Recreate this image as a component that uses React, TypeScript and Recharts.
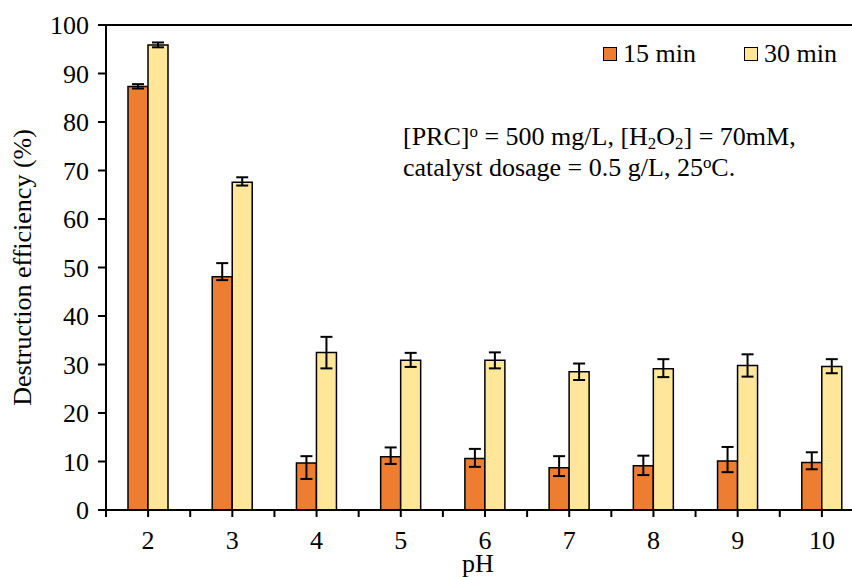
import React from 'react';
import { BarChart, Bar, XAxis, YAxis, ErrorBar, ReferenceLine, Legend, Label } from 'recharts';

const phValues = ['2', '3', '4', '5', '6', '7', '8', '9', '10'];
const min15 = [87.3, 48.1, 9.7, 11.0, 10.6, 8.7, 9.1, 10.1, 9.8];
const min15ErrLow = [0.4, 0.7, 3.3, 1.5, 1.7, 1.7, 1.9, 2.3, 1.4];
const min15ErrHigh = [0.5, 2.8, 1.4, 1.9, 2.0, 2.4, 2.1, 2.9, 2.1];
const min30 = [95.9, 67.6, 32.5, 30.9, 30.9, 28.5, 29.1, 29.8, 29.6];
const min30ErrLow = [0.5, 0.7, 3.3, 1.4, 1.7, 1.7, 1.7, 2.3, 1.4];
const min30ErrHigh = [0.5, 1.0, 3.2, 1.5, 1.6, 1.7, 2.0, 2.3, 1.5];
const yTicks = [0, 10, 20, 30, 40, 50, 60, 70, 80, 90, 100];
const seriesNames = ['15 min', '30 min'];

const data = phValues.map((ph, i) => ({
  ph,
  m15: min15[i],
  e15: [min15ErrLow[i], min15ErrHigh[i]],
  m30: min30[i],
  e30: [min30ErrLow[i], min30ErrHigh[i]],
}));

const FONT = '"Liberation Serif", "Times New Roman", serif';
const FS = 26;
const ORANGE = '#ED7D31';
const YELLOW = '#FFE699';

const CHART_W = 880;
const CHART_H = 577;
const MARGIN = { top: 25, right: 16, bottom: 0, left: 0 };
const Y_AXIS_W = 106;
const X_AXIS_H = 67;
const PLOT_W = CHART_W - MARGIN.left - MARGIN.right - Y_AXIS_W;
const BAND = PLOT_W / phValues.length;

function XTick(props: any) {
  const { x, y, payload, index } = props;
  const last = index === phValues.length - 1;
  return (
    <g>
      <line x1={x} x2={x} y1={y} y2={y + 7} stroke="#000" strokeWidth={2} />
      <line x1={x - BAND / 2} x2={x - BAND / 2} y1={y} y2={y + 7} stroke="#000" strokeWidth={2} />
      {last && <line x1={x + BAND / 2} x2={x + BAND / 2} y1={y} y2={y + 7} stroke="#000" strokeWidth={2} />}
      <text x={x} y={y + 39} textAnchor="middle" fontFamily={FONT} fontSize={FS} fill="#000">
        {payload.value}
      </text>
    </g>
  );
}

function LegendContent() {
  const sq = (c: string) => (
    <span
      style={{
        display: 'inline-block',
        width: 12,
        height: 12,
        border: '1.5px solid #000',
        background: c,
        marginRight: 6,
      }}
    />
  );
  return (
    <div style={{ display: 'flex', alignItems: 'center', fontFamily: FONT, fontSize: FS, lineHeight: '30px', color: '#000', whiteSpace: 'nowrap' }}>
      {sq(ORANGE)}
      <span>{seriesNames[0]}</span>
      <span style={{ width: 48, display: 'inline-block' }} />
      {sq(YELLOW)}
      <span>{seriesNames[1]}</span>
    </div>
  );
}

export default function App() {
  return (
    <div style={{ position: 'absolute', left: 0, top: 0, width: 852, height: 577, overflow: 'hidden', background: '#fff' }}>
      <BarChart width={CHART_W} height={CHART_H} data={data} margin={MARGIN} barGap={0} barSize={20}>
        <ReferenceLine y={100} stroke="#000" strokeWidth={2} />
        <XAxis
          dataKey="ph"
          height={X_AXIS_H}
          tickLine={false}
          tickSize={0}
          tickMargin={0}
          axisLine={{ stroke: '#000', strokeWidth: 2 }}
          tick={<XTick />}
          interval={0}
        >
          <Label
            content={(p: any) => {
              const vb = p.viewBox;
              return (
                <text x={vb.x + vb.width / 2 - 7} y={vb.y + 62} textAnchor="middle" fontFamily={FONT} fontSize={FS} fill="#000">
                  pH
                </text>
              );
            }}
          />
        </XAxis>
        <YAxis
          width={Y_AXIS_W}
          domain={[0, 100]}
          ticks={yTicks}
          interval={0}
          tickSize={8}
          tickMargin={9}
          tickLine={{ stroke: '#000', strokeWidth: 2 }}
          axisLine={{ stroke: '#000', strokeWidth: 2 }}
          tick={{ fontFamily: FONT, fontSize: FS, fill: '#000' }}
        >
          <Label
            content={(p: any) => {
              const vb = p.viewBox;
              const cx = 31;
              const cy = vb.y + vb.height / 2;
              return (
                <text x={cx} y={cy} transform={`rotate(-90, ${cx}, ${cy})`} textAnchor="middle" fontFamily={FONT} fontSize={FS} fill="#000">
                  Destruction efficiency (%)
                </text>
              );
            }}
          />
        </YAxis>
        <Legend
          layout="horizontal"
          verticalAlign="middle"
          align="center"
          content={<LegendContent />}
          wrapperStyle={{ top: 39, left: 603, width: 260, bottom: 'auto', right: 'auto' }}
        />
        <Bar dataKey="m15" name={seriesNames[0]} fill={ORANGE} stroke="#000" strokeWidth={1.5} isAnimationActive={false}>
          <ErrorBar dataKey="e15" width={6} stroke="#000" strokeWidth={2} direction="y" />
        </Bar>
        <Bar dataKey="m30" name={seriesNames[1]} fill={YELLOW} stroke="#000" strokeWidth={1.5} isAnimationActive={false}>
          <ErrorBar dataKey="e30" width={6} stroke="#000" strokeWidth={2} direction="y" />
        </Bar>
      </BarChart>
      <div
        style={{
          position: 'absolute',
          left: 403,
          top: 121,
          fontFamily: FONT,
          fontSize: FS,
          lineHeight: '31px',
          color: '#000',
          whiteSpace: 'nowrap',
        }}
      >
        <div>
          [PRC]<span style={{ fontSize: '0.65em', verticalAlign: '0.5em', lineHeight: 0 }}>o</span> = 500 mg/L, [H
          <span style={{ fontSize: '0.65em', verticalAlign: '-0.25em', lineHeight: 0 }}>2</span>O
          <span style={{ fontSize: '0.65em', verticalAlign: '-0.25em', lineHeight: 0 }}>2</span>] = 70mM,
        </div>
        <div>
          catalyst dosage = 0.5 g/L, 25<span style={{ fontSize: '0.65em', verticalAlign: '0.5em', lineHeight: 0 }}>o</span>C.
        </div>
      </div>
    </div>
  );
}
